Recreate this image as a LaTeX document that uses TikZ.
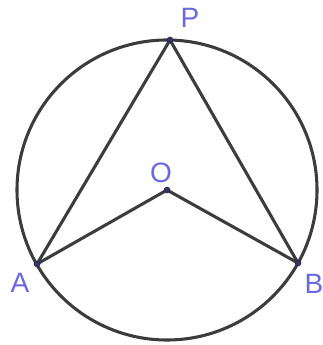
\documentclass[tikz,border=0pt]{standalone}
\usepackage{fontspec}
\setmainfont{Liberation Sans}
\usetikzlibrary{calc}
\definecolor{linie}{RGB}{60,60,60}
\definecolor{schrift}{RGB}{105,105,225}
\tikzset{
    punkt/.style={draw=linie!70!blue, fill=linie, line width=0.9pt},
    beschr/.style={text=schrift, font=\fontsize{21}{21}\selectfont, inner sep=0pt}
}

\begin{document}
\begin{tikzpicture}[x=0.75pt, y=-0.75pt]

% Rahmen
\useasboundingbox (0,0) rectangle (322,345);

% Mittelpunkt und Punkte auf dem Kreis
\coordinate (O) at (167,190);
\coordinate (P) at (170,40);
\coordinate (A) at (37,264);
\coordinate (B) at (298,263);

% Kreis
\draw[linie, line width=2.3pt] (O) circle (112.5pt);

% Umfangswinkel und Mittelpunktswinkel
\draw[linie, line width=2.3pt, line join=round] (A) -- (P) -- (B);
\draw[linie, line width=2.3pt, line join=round] (A) -- (O) -- (B);

% Punkte markieren
\foreach \p in {O, P, A, B}
    \filldraw[punkt] (\p) circle (2pt);

% Beschriftung
\node[beschr] (lP) at (190,18) {P};
\node[beschr] (lO) at (161,173) {O};
\node[beschr] (lA) at (20,283) {A};
\node[beschr] (lB) at (314,284) {B};

\end{tikzpicture}
\end{document}
